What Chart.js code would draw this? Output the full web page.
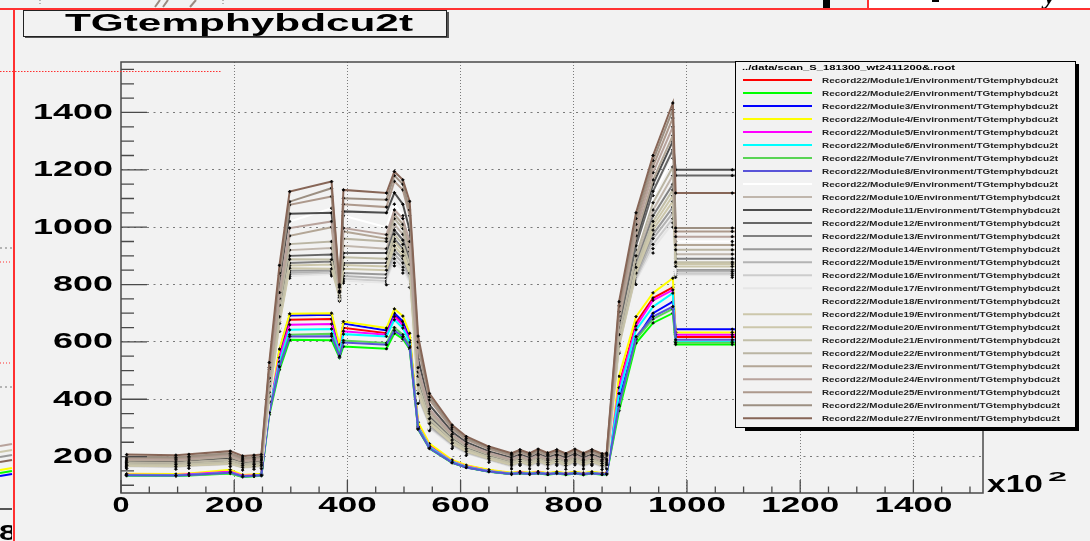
<!DOCTYPE html>
<html>
<head>
<meta charset="utf-8">
<title>TGtemphybdcu2t</title>
<script src="https://cdn.jsdelivr.net/npm/chart.js@4.4.1/dist/chart.umd.min.js"></script>
<style>
  html, body { margin: 0; padding: 0; background: #f2f2f2; }
  canvas { display: block; }
</style>
</head>
<body>
<canvas id="tgtemp" width="1090" height="541"></canvas>
<script>
// sample positions (x10^2) shared by every module graph
const xValues = [10, 97, 120, 193, 215, 235, 248, 262, 280, 298, 372, 386, 393, 469, 483, 498, 510, 525, 545, 585, 610, 650,
  690, 705, 722, 737, 754, 770, 786, 802, 817, 832, 850, 858, 880, 910, 940, 975, 980, 1080, 1230, 1385];

const m01 = [138,137,139,148,134,136,138, 381,558, 677,680,570,649,630,695,665,610,310,240,185,168,152, 142,146,142,146,141,145,141,145,141,145,141, 142, 450,666,753,790, 617,617,617,617];
const m02 = [133,132,134,141,129,131,133, 346,503, 607,606,545,584,576,630,610,575,295,228,178,162,147, 138,142,138,142,137,141,137,141,137,141,137, 138, 360,596,666,700, 591,591,591,591];
const m03 = [136,135,137,145,132,134,136, 386,570, 692,695,572,664,640,700,672,615,300,232,180,163,148, 139,143,139,143,138,142,138,142,138,142,138, 139, 400,610,700,740, 644,644,644,644];
const m04 = [140,139,141,154,136,138,140, 391,575, 698,700,590,671,648,715,690,630,320,245,188,170,154, 144,148,144,148,143,147,143,147,143,147,143, 144, 480,688,771,822, 633,633,633,633];
const m05 = [137,136,138,147,133,135,137, 372,545, 660,662,565,637,625,688,658,605,305,236,183,166,150, 141,145,141,145,140,144,140,144,140,144,140, 141, 440,655,745,781, 625,625,625,625];
const m06 = [135,134,136,144,131,133,135, 363,530, 642,645,560,627,619,677,648,598,302,233,181,164,149, 140,144,140,144,139,143,139,143,139,143,139, 140, 420,642,723,770, 600,600,600,600];
const m07 = [134,133,135,143,130,132,134, 355,517, 625,628,555,605,596,650,625,585,298,230,179,163,148, 139,143,139,143,138,142,138,142,138,142,138, 139, 375,610,680,715, 597,597,597,597];
const m08 = [135,134,136,144,131,133,135, 353,513, 619,620,550,598,590,640,618,580,296,229,179,162,148, 139,143,139,143,138,142,138,142,138,142,138, 139, 380,618,688,723, 607,607,607,607];
const m09 = [182,180,183,192,177,180,182, 475,785, 1020,1066,782,1040,1000,1080,1040,960,520,372,282,246,215, 193,205,193,207,194,205,192,207,193,205,191, 193, 640,920,1110,1240, 950,950,950,950];
const m10 = [178,176,179,187,173,176,178, 438,712, 920,927,768,935,925,1010,975,900,470,344,266,233,204, 183,195,183,197,184,195,182,197,183,195,181, 183, 615,885,1060,1180, 906,906,906,906];
const m11 = [185,183,186,195,180,183,185, 487,806, 1047,1050,785,1055,1050,1120,1080,990,540,380,286,250,218, 196,208,196,210,197,208,195,210,196,208,194, 196, 660,950,1150,1300, 1200,1200,1200,1200];
const m12 = [176,174,177,184,171,174,176, 429,697, 900,905,765,910,910,990,955,885,460,338,262,230,202, 181,193,181,195,182,193,180,195,181,193,179, 181, 650,935,1125,1270, 1180,1180,1180,1180];
const m13 = [172,170,173,180,167,170,172, 418,678, 875,880,760,875,875,960,925,860,440,326,254,224,197, 176,188,176,190,177,188,175,190,176,188,174, 176, 605,870,1040,1150, 890,890,890,890];
const m14 = [166,164,167,173,161,164,166, 405,657, 848,850,752,840,835,920,890,830,410,310,242,215,190, 169,181,169,183,170,181,168,183,169,181,167, 169, 580,830,975,1070, 851,851,851,851];
const m15 = [164,162,165,171,159,162,164, 401,651, 840,845,750,830,822,905,875,820,400,304,238,212,187, 166,178,166,180,167,178,165,180,166,178,164, 166, 575,820,960,1050, 845,845,845,845];
const m16 = [162,160,163,169,157,160,162, 397,646, 834,840,748,820,812,890,860,810,395,298,235,209,185, 163,175,163,177,164,175,162,177,163,175,161, 163, 570,812,940,1030, 837,837,837,837];
const m17 = [160,158,161,167,155,158,160, 394,642, 829,834,745,812,805,875,850,800,390,294,232,206,182, 160,172,160,174,161,172,159,174,160,172,158, 160, 565,805,925,1015, 831,831,831,831];
const m18 = [158,156,159,165,153,156,158, 390,636, 822,830,742,805,799,865,840,790,385,290,228,204,180, 157,169,157,171,158,169,156,171,157,169,155, 157, 560,800,910,1000, 825,825,825,825];
const m19 = [170,168,171,177,165,168,170, 414,671, 866,870,757,868,863,950,915,850,430,320,250,221,194, 173,185,173,187,174,185,172,187,173,185,171, 173, 590,850,1005,1110, 872,872,872,872];
const m20 = [168,166,169,175,163,166,168, 409,664, 857,855,755,855,850,935,900,840,420,315,246,218,192, 171,183,171,185,172,183,170,185,171,183,169, 171, 585,840,990,1090, 863,863,863,863];
const m21 = [174,172,175,182,169,172,174, 424,688, 888,887,762,895,890,975,940,870,450,332,258,227,199, 178,190,178,192,179,190,177,192,178,190,176, 178, 595,860,1020,1130, 878,878,878,878];
const m22 = [180,178,181,189,175,178,180, 446,728, 941,950,772,960,950,1030,995,915,480,350,270,236,207, 185,197,185,199,186,197,184,199,185,197,183, 185, 625,900,1085,1210, 921,921,921,921];
const m23 = [188,186,189,199,183,186,188, 462,751, 970,1000,775,985,960,1045,1010,930,495,358,274,240,210, 188,200,188,202,189,200,187,202,188,200,186, 188, 675,970,1165,1320, 938,938,938,938];
const m24 = [192,190,193,204,187,190,192, 474,772, 997,1020,778,997,974,1060,1030,950,510,366,278,243,213, 191,203,191,205,192,203,190,205,191,203,189, 191, 690,990,1190,1350, 967,967,967,967];
const m25 = [196,194,197,208,191,194,196, 505,831, 1078,1107,790,1080,1070,1160,1130,1040,580,398,296,259,226, 203,215,203,217,204,215,202,217,203,215,201, 203, 705,1010,1212,1381, 985,985,985,985];
const m26 = [200,198,201,212,195,198,200, 511,840, 1089,1136,795,1101,1096,1180,1150,1060,600,408,302,264,230, 207,219,207,221,208,219,206,221,207,219,205, 207, 725,1030,1232,1410, 997,997,997,997];
const m27 = [207,205,208,219,202,205,207, 528,867, 1124,1159,800,1130,1119,1194,1165,1090,620,420,310,270,235, 212,224,212,226,213,224,211,226,212,224,210, 212, 740,1050,1250,1433, 1119,1119,1119,1119];

const moduleSeries = [m01, m02, m03, m04, m05, m06, m07, m08, m09, m10, m11, m12, m13, m14,
  m15, m16, m17, m18, m19, m20, m21, m22, m23, m24, m25, m26, m27];

// ROOT palette indices 2..28
const lineColors = ['#ff0000', '#00ff00', '#0000ff', '#ffff00', '#ff00ff', '#00ffff', '#59d454', '#5954d8',
  '#ffffff', '#c0b6ac', '#4d4d4d', '#666666', '#808080', '#999999', '#b3b3b3', '#cccccc', '#e6e6e6',
  '#f2f2f2', '#ccc7ab', '#ccc7ab', '#c2bfa8', '#bab5a3', '#b3a696', '#b8a39c', '#ad998c', '#9c8f82', '#876657'];

const xTickValues = [0, 200, 400, 600, 800, 1000, 1200, 1400];
const yTickValues = [200, 400, 600, 800, 1000, 1200, 1400];

const histTitle = 'TGtemphybdcu2t';
const legendHeader = '../data/scan_S_181300_wt2411200&.root';

const padColor = '#f2f2f2';
const labelFont = 'bold 22px "Liberation Sans", Arial, sans-serif';

// draw text squeezed/stretched to a given width (ROOT fonts render wide here)
function fitText(ctx, text, x, y, width, font, align) {
  ctx.save();
  ctx.font = font;
  const natural = ctx.measureText(text).width;
  const left = align === 'right' ? x - width : align === 'center' ? x - width / 2 : x;
  ctx.translate(left, y);
  ctx.scale(width / natural, 1);
  ctx.textAlign = 'left';
  ctx.textBaseline = 'alphabetic';
  ctx.fillText(text, 0, 0);
  ctx.restore();
}

function dotted(ctx, x1, y1, x2, y2, color, dash) {
  ctx.save();
  ctx.strokeStyle = color;
  ctx.lineWidth = 1;
  ctx.setLineDash(dash);
  ctx.beginPath();
  ctx.moveTo(x1, y1);
  ctx.lineTo(x2, y2);
  ctx.stroke();
  ctx.restore();
}

// bits of the neighbouring pads that peek out around this one
function drawSurroundings(ctx) {
  ctx.save();
  ctx.fillStyle = '#ffffff';
  ctx.fillRect(869, 0, 221, 8);
  ctx.fillStyle = '#000';
  ctx.fillRect(823, 0, 7, 8);
  ctx.fillRect(932, 0, 7, 2);
  ctx.save();
  ctx.beginPath();
  ctx.rect(869, 0, 221, 8);
  ctx.clip();
  ctx.font = 'italic bold 26px "Liberation Serif", serif';
  ctx.fillText('y', 1044, 4);
  ctx.restore();

  dotted(ctx, 40, 0, 40, 6, '#777', [1, 2]);
  dotted(ctx, 223, 0, 223, 6, '#777', [1, 2]);
  ctx.strokeStyle = '#9a8a80';
  ctx.lineWidth = 2;
  ctx.beginPath();
  ctx.moveTo(155, 7); ctx.lineTo(160, 0);
  ctx.moveTo(163, 7); ctx.lineTo(168, 0);
  ctx.moveTo(190, 7); ctx.lineTo(196, 0);
  ctx.stroke();

  // left-hand pad remnants
  dotted(ctx, 0, 248, 12, 248, '#777', [2, 3]);
  dotted(ctx, 0, 262, 12, 262, '#ff3030', [1, 2]);
  dotted(ctx, 0, 363, 12, 363, '#ff3030', [1, 2]);
  dotted(ctx, 0, 387, 12, 387, '#777', [2, 3]);
  const stubColors = ['#b8a39c', '#ccc7ab', '#999999', '#876657', '#ffff00', '#00ff00', '#0000ff'];
  const stubY = [446, 452, 457, 462, 470, 473, 476];
  stubColors.forEach((col, i) => {
    ctx.strokeStyle = col;
    ctx.beginPath();
    ctx.moveTo(0, stubY[i]);
    ctx.lineTo(12, stubY[i] - 2);
    ctx.stroke();
  });
  ctx.strokeStyle = '#555';
  ctx.lineWidth = 2;
  ctx.beginPath();
  ctx.moveTo(0, 509); ctx.lineTo(12, 509);
  ctx.stroke();
  ctx.save();
  ctx.beginPath();
  ctx.rect(0, 510, 12, 31);
  ctx.clip();
  ctx.fillStyle = '#000';
  fitText(ctx, '8', -1, 540, 18, labelFont, 'left');
  ctx.restore();

  // red pad border
  ctx.fillStyle = '#ff3030';
  ctx.fillRect(0, 8, 1090, 2);
  ctx.fillRect(13, 8, 2, 533);
  ctx.fillRect(867, 0, 2, 9);
  ctx.restore();
}

function drawTitleBox(ctx) {
  ctx.save();
  ctx.fillStyle = '#555';
  ctx.fillRect(25, 35, 424, 3);
  ctx.fillRect(446, 12, 3, 26);
  ctx.fillStyle = padColor;
  ctx.fillRect(23, 10, 423, 26);
  ctx.strokeStyle = '#222';
  ctx.lineWidth = 1;
  ctx.strokeRect(23.5, 10.5, 423, 26);
  ctx.fillStyle = '#000';
  fitText(ctx, histTitle, 65, 30.5, 348, 'bold 24px "Liberation Sans", Arial, sans-serif', 'left');
  ctx.restore();
}

function drawFrameAndAxes(chart) {
  const { ctx, chartArea: a, scales: { x, y } } = chart;
  ctx.save();
  ctx.strokeStyle = '#4a4a4a';
  ctx.lineWidth = 1.5;
  ctx.strokeRect(a.left, a.top, a.right - a.left, a.bottom - a.top);

  ctx.lineWidth = 1.3;
  ctx.beginPath();
  for (let v = 0; v <= x.max; v += 50) {
    const px = x.getPixelForValue(v);
    const len = v % 200 === 0 ? 13 : 6.5;
    ctx.moveTo(px, a.bottom);
    ctx.lineTo(px, a.bottom - len);
  }
  for (let v = Math.ceil(y.min / 50) * 50; v <= y.max; v += 50) {
    const py = y.getPixelForValue(v);
    const len = v % 200 === 0 ? 26 : 13;
    ctx.moveTo(a.left, py);
    ctx.lineTo(a.left + len, py);
  }
  ctx.stroke();

  ctx.fillStyle = '#000';
  xTickValues.forEach((v) => {
    const s = String(v);
    fitText(ctx, s, x.getPixelForValue(v), 512, s.length === 1 ? 17 : 19.5 * s.length, labelFont, 'center');
  });
  yTickValues.forEach((v) => {
    const s = String(v);
    fitText(ctx, s, 113, y.getPixelForValue(v) + 6.5, 20 * s.length, labelFont, 'right');
  });
  fitText(ctx, 'x10', 987, 492, 56, 'bold 23px "Liberation Sans", Arial, sans-serif', 'left');
  fitText(ctx, '2', 1048, 481, 19, 'bold 13px "Liberation Sans", Arial, sans-serif', 'left');
  ctx.restore();
}

function drawLegendBox(chart) {
  const ctx = chart.ctx;
  const left = 735, top = 61, right = 1076, bottom = 428;
  ctx.save();
  ctx.fillStyle = '#000';
  ctx.fillRect(right, top + 3, 3, bottom - top);
  ctx.fillRect(left + 10, bottom, right - left - 7, 3);
  ctx.fillStyle = padColor;
  ctx.fillRect(left, top, right - left, bottom - top);
  ctx.strokeStyle = '#000';
  ctx.lineWidth = 1;
  ctx.strokeRect(left + 0.5, top + 0.5, right - left - 1, bottom - top - 1);

  const tiny = 'bold 7.5px "Liberation Sans", Arial, sans-serif';
  ctx.fillStyle = '#000';
  fitText(ctx, legendHeader, 742, 69.5, 213, tiny, 'left');

  chart.data.datasets.forEach((ds, i) => {
    const rowY = 80 + i * 13.01;
    ctx.strokeStyle = ds.borderColor;
    ctx.lineWidth = 2;
    ctx.beginPath();
    ctx.moveTo(743, rowY);
    ctx.lineTo(812, rowY);
    ctx.stroke();
    ctx.fillStyle = '#222';
    fitText(ctx, ds.label, 822, rowY + 2.7, i < 9 ? 236 : 238, tiny, 'left');
  });
  ctx.restore();
}

const rootPad = {
  id: 'rootPad',
  beforeDraw(chart) {
    const ctx = chart.ctx;
    ctx.save();
    ctx.fillStyle = padColor;
    ctx.fillRect(0, 0, chart.width, chart.height);
    ctx.restore();
    drawSurroundings(ctx);
    drawTitleBox(ctx);
  },
  afterDatasetsDraw(chart) {
    drawFrameAndAxes(chart);
    drawLegendBox(chart);
  },
  afterDraw(chart) {
    dotted(chart.ctx, 0, 71.5, 222, 71.5, '#ff3030', [1.5, 1.5]);
  },
};

const datasets = moduleSeries.map((vals, i) => ({
  label: `Record22/Module${i + 1}/Environment/TGtemphybdcu2t`,
  data: xValues.map((xv, k) => ({ x: xv, y: vals[k] })),
  borderColor: lineColors[i],
  backgroundColor: lineColors[i],
  order: moduleSeries.length - i,
}));

new Chart(document.getElementById('tgtemp'), {
  type: 'line',
  data: { datasets },
  options: {
    responsive: false,
    animation: false,
    events: [],
    layout: { padding: { left: 121, right: 107, top: 62, bottom: 48 } },
    plugins: {
      legend: { display: false },
      tooltip: { enabled: false },
    },
    elements: {
      line: { borderWidth: 2, tension: 0 },
      point: {
        radius: 1.4,
        pointStyle: 'rectRot',
        backgroundColor: '#000',
        borderColor: '#000',
        borderWidth: 0.8,
      },
    },
    datasets: {
      line: { pointBackgroundColor: '#000', pointBorderColor: '#000' },
    },
    scales: {
      x: {
        type: 'linear',
        min: 0,
        max: 1523,
        afterBuildTicks: (scale) => {
          scale.ticks = xTickValues.filter((v) => v > 0).map((v) => ({ value: v }));
        },
        ticks: { display: false },
        grid: { drawTicks: false, color: '#7a7a7a', lineWidth: 1 },
        border: { display: false, dash: [1, 2] },
      },
      y: {
        type: 'linear',
        min: 73,
        max: 1576,
        afterBuildTicks: (scale) => {
          scale.ticks = yTickValues.map((v) => ({ value: v }));
        },
        ticks: { display: false },
        grid: { drawTicks: false, color: '#7a7a7a', lineWidth: 1 },
        border: { display: false, dash: [2, 4.5] },
      },
    },
  },
  plugins: [rootPad],
});
</script>
</body>
</html>
